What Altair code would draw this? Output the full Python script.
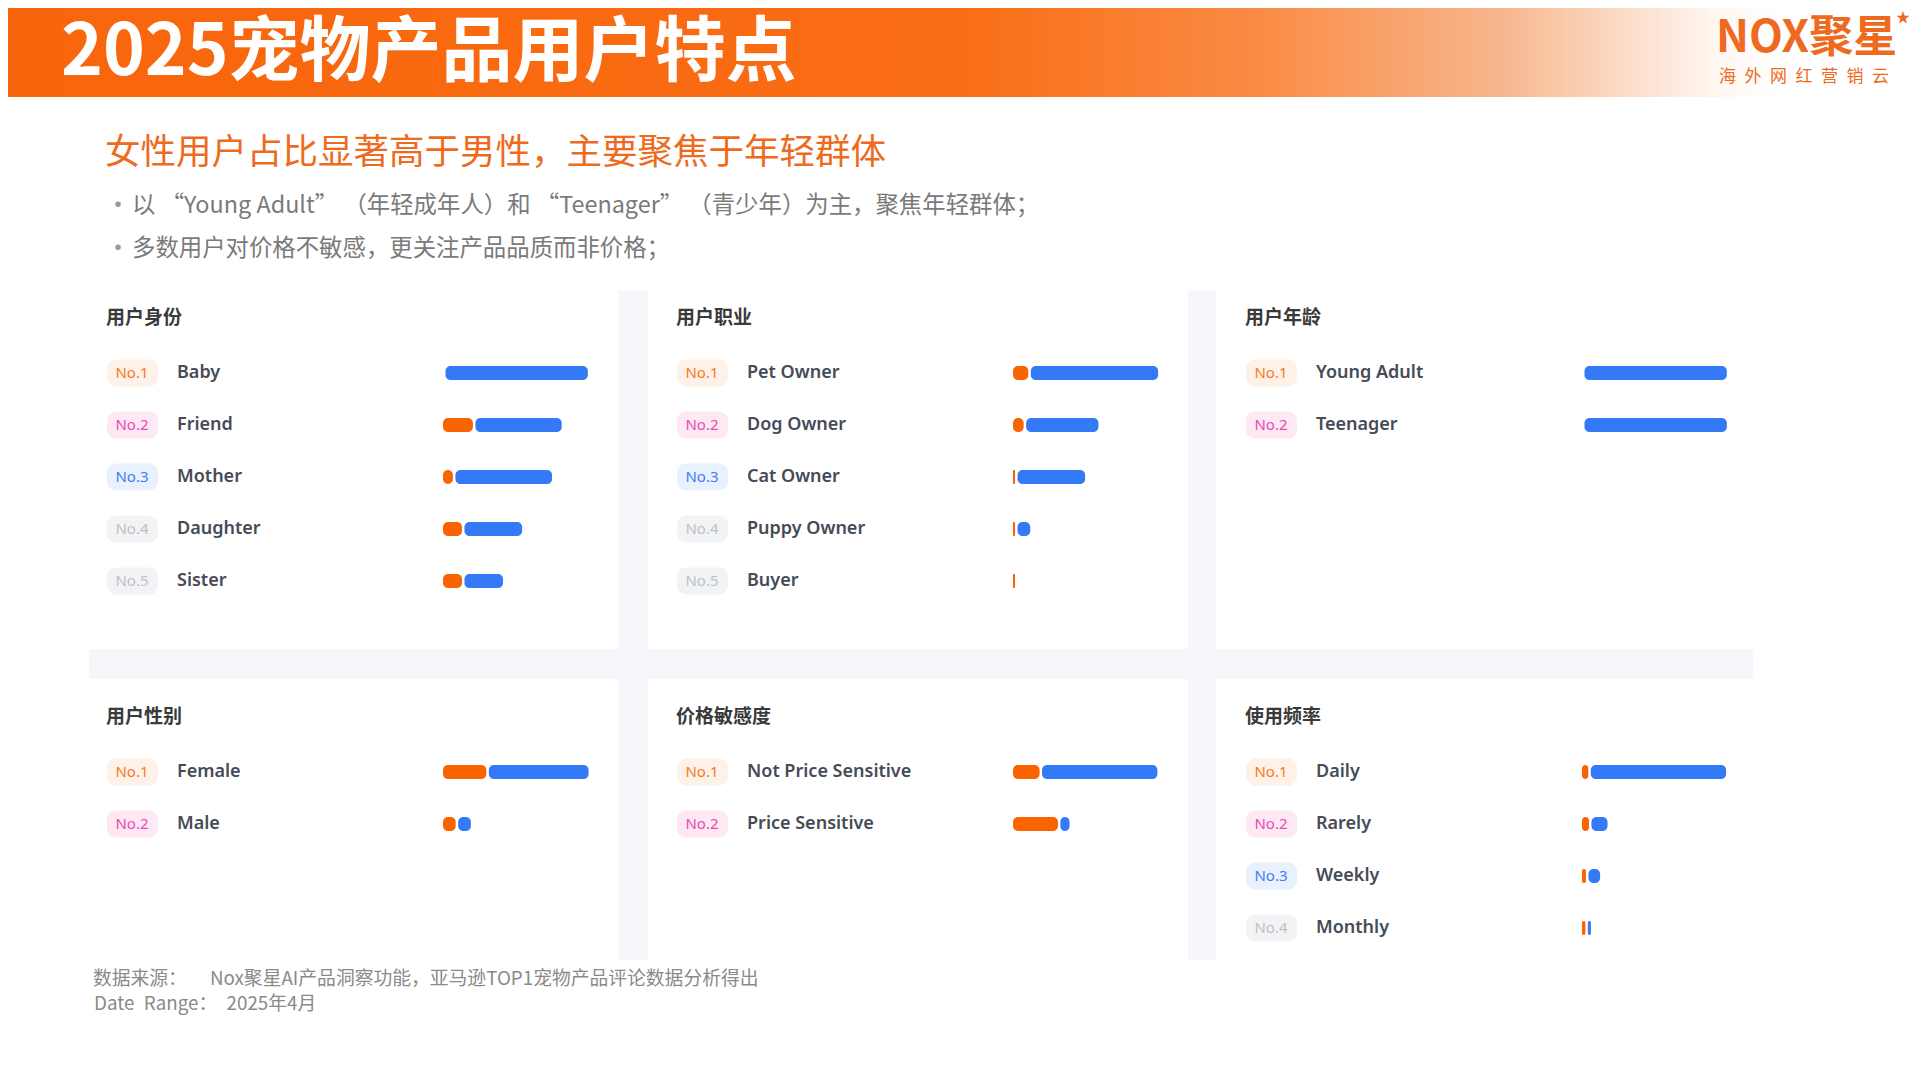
import altair as alt
import pandas as pd

# ---------------- data ----------------
panel_titles = ["用户身份", "用户职业", "用户年龄", "用户性别", "价格敏感度", "使用频率"]

identity_labels = ["Baby", "Friend", "Mother", "Daughter", "Sister"]
identity_orange = [0, 20.5, 6.8, 13.0, 13.0]
identity_blue = [97.5, 59.1, 66.2, 39.5, 26.4]

occupation_labels = ["Pet Owner", "Dog Owner", "Cat Owner", "Puppy Owner", "Buyer"]
occupation_orange = [10.5, 7.3, 1.4, 1.4, 1.4]
occupation_blue = [87.2, 49.5, 46.3, 8.7, 0]

age_labels = ["Young Adult", "Teenager"]
age_orange = [0, 0]
age_blue = [97.5, 97.5]

gender_labels = ["Female", "Male"]
gender_orange = [29.7, 8.7]
gender_blue = [68.3, 8.7]

price_labels = ["Not Price Sensitive", "Price Sensitive"]
price_orange = [18.2, 30.8]
price_blue = [79.0, 6.2]

freq_labels = ["Daily", "Rarely", "Weekly", "Monthly"]
freq_orange = [4.3, 4.8, 2.7, 2.3]
freq_blue = [92.7, 11.0, 8.0, 2.1]

main_title = "2025宠物产品用户特点"
subtitle = "女性用户占比显著高于男性，主要聚焦于年轻群体"
bullets = [
    "以 “Young Adult” （年轻成年人）和 “Teenager” （青少年）为主，聚焦年轻群体；",
    "多数用户对价格不敏感，更关注产品品质而非价格；",
]
footer_lines = [
    "数据来源：\u3000\u2002 Nox聚星AI产品洞察功能，亚马逊TOP1宠物产品评论数据分析得出",
    "Date\u2002Range：\u20022025年4月",
]
logo_main = "NOX聚星"
logo_sub = "海\u2002外\u2002网\u2002红\u2002营\u2002销\u2002云"

# ---------------- styles / layout ----------------
OFF = 8
W, H = 1904, 1064


def P(v):
    return v - OFF


ORANGE = "#FA6400"
BLUE = "#3479F6"
RANK_FG = ["#F47B26", "#E54BB3", "#3F7EF2", "#BEC1C7", "#BEC1C7"]
RANK_BG = ["#FEF1E8", "#FDE8F4", "#E9F0FE", "#F2F3F5", "#F2F3F5"]
CJK = "Noto Sans CJK SC"
LAT = "Noto Sans"
GAP = 1.7

one = pd.DataFrame({"k": [0]})


def deco_text(text, x, y, size, color, weight="normal", align="left", font=CJK):
    return alt.Chart(one).mark_text(
        text=text, align=align, baseline="middle", fontSize=size,
        color=color, fontWeight=weight, font=font
    ).encode(x=alt.value(P(x)), y=alt.value(P(y)))


def deco_rect(x1, x2, y1, y2, color):
    return alt.Chart(one).mark_rect(color=color).encode(
        x=alt.value(P(x1)), x2=alt.value(P(x2)),
        y=alt.value(P(y1)), y2=alt.value(P(y2))
    )


def panel(col_x, title_y, title, labels, orange, blue):
    n = len(labels)
    df = pd.DataFrame({
        "rank": list(range(1, n + 1)),
        "badge": [f"No.{i}" for i in range(1, n + 1)],
        "label": labels,
        "orange": orange,
        "blue": blue,
    })
    first_y = title_y + 55
    ys = alt.Scale(domain=[1, 5], range=[P(first_y), P(first_y + 4 * 52)], zero=False, nice=False)
    xs = alt.Scale(domain=[0, 100], range=[P(col_x + 337), P(col_x + 337 + 146)], zero=False, nice=False)
    Y = alt.Y("rank:Q", scale=ys, axis=None)
    base = alt.Chart(df).transform_calculate(
        o0="0", b0=f"datum.orange + {GAP}", b1=f"datum.orange + {GAP} + datum.blue"
    )
    layers = [deco_text(title, col_x, title_y, 19, "#3A3A3A", "bold")]
    layers.append(base.mark_rect(cornerRadius=9, yOffset=-13.5, y2Offset=13.5).encode(
        x=alt.value(P(col_x + 1)), x2=alt.value(P(col_x + 52)), y=Y, y2="rank:Q",
        fill=alt.Fill("rank:O", scale=alt.Scale(domain=[1, 2, 3, 4, 5], range=RANK_BG), legend=None),
    ))
    layers.append(base.mark_text(align="center", baseline="middle", fontSize=15, font=LAT).encode(
        x=alt.value(P(col_x + 26)), y=Y, text="badge:N",
        color=alt.Color("rank:O", scale=alt.Scale(domain=[1, 2, 3, 4, 5], range=RANK_FG), legend=None),
    ))
    layers.append(base.mark_text(align="left", baseline="middle", fontSize=18, font=LAT,
                                 fontWeight=600, color="#454B57").encode(
        x=alt.value(P(col_x + 71)), y=Y, text="label:N",
    ))
    layers.append(base.transform_filter("datum.orange > 0").mark_rect(
        cornerRadius=5, color=ORANGE, yOffset=-7, y2Offset=7).encode(
        x=alt.X("o0:Q", scale=xs, axis=None), x2="orange:Q", y=Y, y2="rank:Q",
    ))
    layers.append(base.transform_filter("datum.blue > 0").mark_rect(
        cornerRadius=5, color=BLUE, yOffset=-7, y2Offset=7).encode(
        x=alt.X("b0:Q", scale=xs, axis=None), x2="b1:Q", y=Y, y2="rank:Q",
    ))
    return layers


layers = []

# gutters between cards
GUT = "#F6F7FA"
layers.append(deco_rect(618, 648, 290, 960, GUT))
layers.append(deco_rect(1188, 1216, 290, 960, GUT))
layers.append(deco_rect(89, 1753, 649, 679, GUT))

# header band with gradient
header_grad = alt.LinearGradient(
    gradient="linear",
    stops=[
        alt.GradientStop(color="#F8650C", offset=0),
        alt.GradientStop(color="#F96D14", offset=0.5),
        alt.GradientStop(color="#FA8C46", offset=0.66),
        alt.GradientStop(color="#F7B48A", offset=0.78),
        alt.GradientStop(color="#FBDCC7", offset=0.85),
        alt.GradientStop(color="#FFF6F0", offset=0.895),
        alt.GradientStop(color="#FFFFFF", offset=0.93),
        alt.GradientStop(color="#FFFFFF", offset=1),
    ],
    x1=0, x2=1, y1=0, y2=0,
)
layers.append(alt.Chart(one).mark_rect(color=header_grad).encode(
    x=alt.value(0), x2=alt.value(W), y=alt.value(0), y2=alt.value(P(97))
))

layers.append(deco_text(main_title, 61, 54, 71, "#FFFFFF", "bold"))
layers.append(deco_text(logo_main, 1716, 39, 44, "#EE6A20", "bold"))
layers.append(deco_text("★", 1896, 18, 14, "#EE6A20"))
layers.append(deco_text(logo_sub, 1719, 77, 17, "#EE6A20"))

layers.append(deco_text(subtitle, 105, 153, 35.5, "#EE6A1C"))
for i, b in enumerate(bullets):
    yy = 206 + i * 43
    layers.append(deco_text("•", 105, yy, 26, "#9A9A9A"))
    layers.append(deco_text(b, 132, yy, 23.4, "#7A7A7A"))

layers.append(deco_text(footer_lines[0], 93, 979, 18.8, "#8A8A8A"))
layers.append(deco_text(footer_lines[1], 94, 1004, 18.8, "#8A8A8A"))

COLS = [106, 676, 1245]
ROWS = [318, 717]
layers += panel(COLS[0], ROWS[0], panel_titles[0], identity_labels, identity_orange, identity_blue)
layers += panel(COLS[1], ROWS[0], panel_titles[1], occupation_labels, occupation_orange, occupation_blue)
layers += panel(COLS[2], ROWS[0], panel_titles[2], age_labels, age_orange, age_blue)
layers += panel(COLS[0], ROWS[1], panel_titles[3], gender_labels, gender_orange, gender_blue)
layers += panel(COLS[1], ROWS[1], panel_titles[4], price_labels, price_orange, price_blue)
layers += panel(COLS[2], ROWS[1], panel_titles[5], freq_labels, freq_orange, freq_blue)

chart = alt.layer(*layers).resolve_scale(
    x="independent", y="independent"
).properties(
    width=W, height=H, autosize=alt.AutoSizeParams(type="none"), padding=0,
    background="#FFFFFF",
).configure_view(stroke=None)

chart.save("out.html", embed_options={"renderer": "svg", "actions": False})
